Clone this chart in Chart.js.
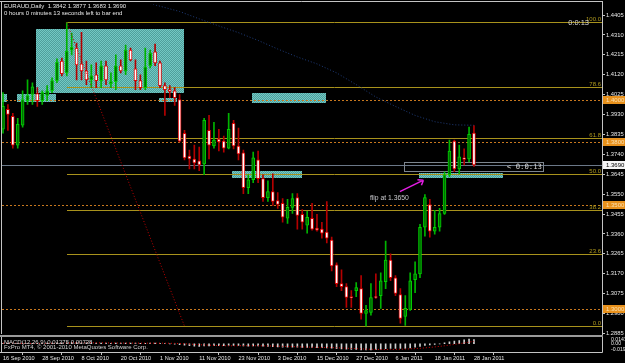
<!DOCTYPE html>
<html>
<head>
<meta charset="utf-8">
<script src="https://cdn.jsdelivr.net/npm/chart.js@4.4.0/dist/chart.umd.min.js"></script>
<style>
html, body { margin: 0; padding: 0; background: #000; }
canvas { display: block; }
</style>
</head>
<body>
<canvas id="myChart" width="625" height="363"></canvas>
<script>
// Velas diarias EURAUD, del 16 Sep 2010 (barra 0) al 28 Jan 2011 (barra 96)
const opens = [1.3860, 1.3955, 1.3922, 1.3784, 1.3879, 1.3997, 1.4026, 1.4030, 1.3997, 1.4021,
    1.4044, 1.4092, 1.4186, 1.4129, 1.4238, 1.4248, 1.4172, 1.4139, 1.4096, 1.4120,
    1.4092, 1.4163, 1.4077, 1.4087, 1.4163, 1.4139, 1.4238, 1.4148, 1.4092, 1.4059,
    1.4163, 1.4229, 1.4177, 1.4068, 1.4049, 1.4044, 1.4002, 1.3841, 1.3732, 1.3718,
    1.3709, 1.3695, 1.3855, 1.3780, 1.3813, 1.3803, 1.3770, 1.3888, 1.3780, 1.3747,
    1.3581, 1.3619, 1.3714, 1.3624, 1.3534, 1.3562, 1.3520, 1.3506, 1.3435, 1.3487,
    1.3534, 1.3454, 1.3402, 1.3435, 1.3388, 1.3383, 1.3369, 1.3331, 1.3213, 1.3123,
    1.3109, 1.3061, 1.3090, 1.3099, 1.2981, 1.2986, 1.3061, 1.3066, 1.3132, 1.3236,
    1.3151, 1.3071, 1.2967, 1.3000, 1.3142, 1.3170, 1.3392, 1.3501, 1.3373, 1.3392,
    1.3458, 1.3643, 1.3803, 1.3671, 1.3723, 1.3718, 1.3842];
const highs = [1.4035, 1.3978, 1.3936, 1.3912, 1.4044, 1.4096, 1.4082, 1.4059, 1.4044, 1.4068,
    1.4106, 1.4196, 1.4200, 1.4370, 1.4319, 1.4271, 1.4323, 1.4186, 1.4167, 1.4177,
    1.4186, 1.4186, 1.4129, 1.4215, 1.4191, 1.4262, 1.4248, 1.4191, 1.4120, 1.4248,
    1.4238, 1.4267, 1.4186, 1.4082, 1.4068, 1.4059, 1.4026, 1.3855, 1.3761, 1.3784,
    1.3775, 1.3912, 1.3926, 1.3893, 1.3860, 1.3827, 1.3936, 1.3903, 1.3865, 1.3761,
    1.3643, 1.3751, 1.3756, 1.3643, 1.3614, 1.3647, 1.3558, 1.3529, 1.3525, 1.3553,
    1.3553, 1.3477, 1.3468, 1.3506, 1.3454, 1.3416, 1.3515, 1.3345, 1.3222, 1.3189,
    1.3123, 1.3090, 1.3128, 1.3161, 1.3019, 1.3123, 1.3170, 1.3175, 1.3326, 1.3265,
    1.3161, 1.3099, 1.3066, 1.3175, 1.3227, 1.3406, 1.3548, 1.3525, 1.3473, 1.3482,
    1.3657, 1.3808, 1.3808, 1.3784, 1.3766, 1.3870, 1.3877];
const lows = [1.3841, 1.3855, 1.3770, 1.3770, 1.3870, 1.3978, 1.3978, 1.3969, 1.3978, 1.3997,
    1.4035, 1.4082, 1.4115, 1.4115, 1.4215, 1.4096, 1.4096, 1.4073, 1.4059, 1.4059,
    1.4059, 1.4073, 1.4059, 1.4049, 1.4129, 1.4120, 1.4186, 1.4049, 1.4049, 1.4049,
    1.4153, 1.4163, 1.4059, 1.3926, 1.4011, 1.3974, 1.3799, 1.3714, 1.3671, 1.3671,
    1.3662, 1.3643, 1.3718, 1.3770, 1.3756, 1.3751, 1.3766, 1.3766, 1.3714, 1.3553,
    1.3553, 1.3605, 1.3605, 1.3515, 1.3515, 1.3496, 1.3482, 1.3416, 1.3411, 1.3458,
    1.3383, 1.3383, 1.3364, 1.3378, 1.3373, 1.3340, 1.3317, 1.3184, 1.3109, 1.3090,
    1.3009, 1.3009, 1.3061, 1.2953, 1.2920, 1.2972, 1.3052, 1.3005, 1.3099, 1.3137,
    1.3066, 1.2934, 1.2924, 1.2995, 1.3080, 1.3151, 1.3350, 1.3345, 1.3359, 1.3373,
    1.3454, 1.3633, 1.3657, 1.3647, 1.3690, 1.3704, 1.3683];
const closes = [1.3969, 1.3931, 1.3784, 1.3884, 1.4002, 1.4021, 1.4063, 1.3997, 1.4035, 1.4044,
    1.4092, 1.4181, 1.4125, 1.4233, 1.4252, 1.4167, 1.4139, 1.4096, 1.4115, 1.4092,
    1.4163, 1.4096, 1.4087, 1.4163, 1.4139, 1.4238, 1.4191, 1.4092, 1.4059, 1.4158,
    1.4224, 1.4177, 1.4068, 1.4049, 1.4040, 1.4011, 1.3803, 1.3723, 1.3718, 1.3699,
    1.3690, 1.3903, 1.3784, 1.3808, 1.3799, 1.3770, 1.3860, 1.3780, 1.3742, 1.3581,
    1.3619, 1.3723, 1.3624, 1.3534, 1.3562, 1.3515, 1.3501, 1.3440, 1.3487, 1.3529,
    1.3449, 1.3416, 1.3440, 1.3383, 1.3378, 1.3364, 1.3340, 1.3208, 1.3123, 1.3109,
    1.3057, 1.3055, 1.3104, 1.2981, 1.2995, 1.3057, 1.3057, 1.3137, 1.3236, 1.3151,
    1.3076, 1.2957, 1.3005, 1.3137, 1.3170, 1.3392, 1.3534, 1.3373, 1.3392, 1.3458,
    1.3643, 1.3756, 1.3671, 1.3728, 1.3716, 1.3836, 1.3690];

// Etiquetas del eje X (una cada 8 barras)
const dateLabels = ['16 Sep 2010', '28 Sep 2010', '8 Oct 2010', '20 Oct 2010', '1 Nov 2010', '11 Nov 2010',
    '23 Nov 2010', '3 Dec 2010', '15 Dec 2010', '27 Dec 2010', '6 Jan 2011', '18 Jan 2011', '28 Jan 2011'];
const dateStep = 8;
// Etiquetas del eje de precios
const priceTicks = [1.4405, 1.4310, 1.4215, 1.4120, 1.4025, 1.3930, 1.3835, 1.3740, 1.3645,
    1.3550, 1.3455, 1.3360, 1.3265, 1.3170, 1.3075, 1.2980, 1.2885];

// Media movil (linea punteada azul)
const maBars = [30, 36, 40, 44, 48, 52, 56, 60, 64, 68, 72, 76, 80, 84, 88, 92, 96];
const maValues = [1.4460, 1.4422, 1.4387, 1.4353, 1.4321, 1.4284, 1.4243, 1.4205, 1.4172,
    1.4129, 1.4073, 1.4014, 1.3969, 1.3926, 1.3896, 1.3881, 1.3879];

// MACD(12,26,9): linea principal (histograma) y senal
const macdMain = [0.0012, 0.0010, 0.0006, 0.0004, 0.0008, 0.0011, 0.0014, 0.0015, 0.0016, 0.0018,
    0.0021, 0.0027, 0.0029, 0.0033, 0.0036, 0.0034, 0.0031, 0.0027, 0.0024, 0.0021,
    0.0021, 0.0018, 0.0016, 0.0018, 0.0017, 0.0022, 0.0023, 0.0019, 0.0013, 0.0015,
    0.0019, 0.0020, 0.0013, 0.0004, -0.0003, -0.0010, -0.0028, -0.0047, -0.0061, -0.0073,
    -0.0082, -0.0070, -0.0068, -0.0064, -0.0063, -0.0063, -0.0052, -0.0049, -0.0051, -0.0066,
    -0.0073, -0.0069, -0.0071, -0.0080, -0.0085, -0.0091, -0.0096, -0.0105, -0.0107, -0.0105,
    -0.0109, -0.0114, -0.0114, -0.0119, -0.0121, -0.0124, -0.0127, -0.0139, -0.0153, -0.0163,
    -0.0173, -0.0179, -0.0181, -0.0192, -0.0197, -0.0191, -0.0183, -0.0172, -0.0155, -0.0146,
    -0.0143, -0.0147, -0.0145, -0.0128, -0.0110, -0.0083, -0.0050, -0.0036, -0.0022, -0.0004,
    0.0030, 0.0062, 0.0080, 0.0100, 0.0120, 0.0143, 0.01275];
const macdSignal = [0.0020, 0.0018, 0.0016, 0.0013, 0.0011, 0.0010, 0.0010, 0.0010, 0.0011, 0.0012,
    0.0013, 0.0015, 0.0017, 0.0019, 0.0022, 0.0024, 0.0026, 0.0027, 0.0028, 0.0028,
    0.0027, 0.0026, 0.0024, 0.0022, 0.0021, 0.0020, 0.0020, 0.0019, 0.0019, 0.0018,
    0.0018, 0.0018, 0.0018, 0.0017, 0.0014, 0.0010, 0.0004, -0.0003, -0.0011, -0.0020,
    -0.0030, -0.0037, -0.0044, -0.0051, -0.0058, -0.0063, -0.0065, -0.0064, -0.0062, -0.0062,
    -0.0062, -0.0063, -0.0064, -0.0066, -0.0069, -0.0072, -0.0076, -0.0081, -0.0086, -0.0091,
    -0.0096, -0.0101, -0.0105, -0.0109, -0.0112, -0.0115, -0.0118, -0.0122, -0.0127, -0.0133,
    -0.0140, -0.0147, -0.0153, -0.0161, -0.0168, -0.0173, -0.0177, -0.0180, -0.0181, -0.0179,
    -0.0176, -0.0171, -0.0166, -0.0159, -0.0152, -0.0143, -0.0130, -0.0116, -0.0100, -0.0083,
    -0.0064, -0.0043, -0.0021, 0.0002, 0.0024, 0.0050, 0.00738];
const macdTicks = [0.01432, 0, -0.01966];
const macdTickText = ['0.01432', '0.00', '-0.01966'];

// Fibonacci: maximo en la barra 13, segundo punto en la barra 37
const fiboHighBar = 13, fiboHigh = 1.4370;
const fiboLowBar = 37, fiboLow = 1.2920;
const fiboLevels = [0, 23.6, 38.2, 50, 61.8, 78.6, 100];
const roundLevels = [1.4000, 1.3800, 1.3500, 1.3000];
const bidPrice = 1.3690;

// Zonas cian: [barra inicio, barra fin, precio arriba, precio abajo]
const zones = [
    [6.7, 36.9, 1.4337, 1.4035],
    [-0.3, 0.75, 1.4026, 1.3988],
    [2.85, 10.8, 1.4026, 1.3988],
    [31.8, 35.5, 1.4007, 1.3992],
    [50.8, 65.8, 1.4035, 1.3983],
    [46.7, 60.9, 1.3662, 1.3628],
    [84.8, 101.9, 1.3652, 1.3628]
];
const timerBox = [81.7, 110.1, 1.3704, 1.3662];
const arrowFrom = [80.9, 1.3562], arrowTo = [85.7, 1.3617];
const flipText = 'flip at 1.3650', flipAt = [74.8, 1.3529];

const FONT = 'Liberation Sans, Arial, sans-serif';
const bull = (i) => closes[i] >= opens[i];

// Patron punteado para las zonas
function zonePattern(ctx) {
    const c = document.createElement('canvas');
    c.width = 2; c.height = 2;
    const p = c.getContext('2d');
    p.fillStyle = '#4f9f9c'; p.fillRect(0, 0, 2, 2);
    p.fillStyle = '#72c9c4'; p.fillRect(0, 0, 1, 1); p.fillRect(1, 1, 1, 1);
    return ctx.createPattern(c, 'repeat');
}

const overlay = {
    id: 'overlay',
    beforeDraw(chart) {
        const ctx = chart.ctx;
        ctx.save();
        ctx.fillStyle = '#000';
        ctx.fillRect(0, 0, chart.width, chart.height);
        ctx.restore();
    },
    beforeDatasetsDraw(chart) {
        const { ctx, chartArea: a, scales: { x, y } } = chart;
        const py = (v) => Math.round(y.getPixelForValue(v)) + 0.5;
        ctx.save();
        // zonas
        ctx.fillStyle = zonePattern(ctx);
        zones.forEach(z => {
            const x1 = Math.round(x.getPixelForValue(z[0])), x2 = Math.round(x.getPixelForValue(z[1]));
            const y1 = Math.round(y.getPixelForValue(z[2])), y2 = Math.round(y.getPixelForValue(z[3]));
            ctx.fillRect(x1, y1, x2 - x1, y2 - y1);
        });
        // lineas redondas punteadas
        ctx.strokeStyle = '#c8781e';
        ctx.lineWidth = 1;
        ctx.setLineDash([2, 2]);
        roundLevels.forEach(v => {
            ctx.beginPath(); ctx.moveTo(a.left, py(v)); ctx.lineTo(a.right, py(v)); ctx.stroke();
        });
        ctx.setLineDash([]);
        // linea bid
        ctx.strokeStyle = '#6b7888';
        ctx.beginPath(); ctx.moveTo(a.left, py(bidPrice)); ctx.lineTo(a.right, py(bidPrice)); ctx.stroke();
        // niveles fibonacci
        const fx = Math.round(x.getPixelForValue(fiboHighBar));
        ctx.strokeStyle = '#a8921c';
        ctx.fillStyle = '#b09a1e';
        ctx.font = '6px ' + FONT;
        ctx.textAlign = 'right';
        ctx.textBaseline = 'bottom';
        fiboLevels.forEach(l => {
            const v = fiboLow + (fiboHigh - fiboLow) * l / 100;
            ctx.beginPath(); ctx.moveTo(fx, py(v)); ctx.lineTo(a.right, py(v)); ctx.stroke();
            ctx.fillText(l.toFixed(1), a.right - 1, py(v) - 0.5);
        });
        // rectangulo del temporizador
        ctx.strokeStyle = '#7d858e';
        const bx1 = Math.round(x.getPixelForValue(timerBox[0])) + 0.5, bx2 = Math.round(x.getPixelForValue(timerBox[1])) + 0.5;
        ctx.strokeRect(bx1, py(timerBox[2]), bx2 - bx1, py(timerBox[3]) - py(timerBox[2]));
        ctx.restore();
    },
    afterDraw(chart) {
        const { ctx, chartArea: a, scales: { x, y, macd } } = chart;
        const py = (v) => Math.round(y.getPixelForValue(v)) + 0.5;
        ctx.save();
        // marco
        ctx.strokeStyle = '#c4c4c4';
        ctx.lineWidth = 1;
        ctx.beginPath();
        ctx.moveTo(0, 1.5); ctx.lineTo(a.right + 0.5, 1.5);
        ctx.moveTo(1.5, 1); ctx.lineTo(1.5, a.bottom);
        ctx.moveTo(a.right + 0.5, 1); ctx.lineTo(a.right + 0.5, a.bottom + 0.5);
        ctx.moveTo(0, a.bottom + 0.5); ctx.lineTo(a.right + 0.5, a.bottom + 0.5);
        ctx.stroke();
        // separador entre paneles
        const sep = Math.round(macd.top);
        ctx.fillStyle = '#000';
        ctx.fillRect(0, sep - 3, a.right, 3);
        ctx.fillStyle = '#9a9a9a';
        ctx.fillRect(0, sep - 2, a.right + 1, 2);

        // flecha magenta
        const ax1 = x.getPixelForValue(arrowFrom[0]), ay1 = y.getPixelForValue(arrowFrom[1]);
        const ax2 = x.getPixelForValue(arrowTo[0]), ay2 = y.getPixelForValue(arrowTo[1]);
        ctx.strokeStyle = '#e41ee4';
        ctx.lineWidth = 1.5;
        ctx.beginPath(); ctx.moveTo(ax1, ay1); ctx.lineTo(ax2, ay2);
        ctx.moveTo(ax2, ay2); ctx.lineTo(ax2 - 6, ay2 - 0.5);
        ctx.moveTo(ax2, ay2); ctx.lineTo(ax2 - 2, ay2 + 5);
        ctx.stroke();

        // textos
        ctx.textAlign = 'left';
        ctx.textBaseline = 'middle';
        ctx.fillStyle = '#e6e6e6';
        ctx.font = '6px ' + FONT;
        ctx.fillText('EURAUD,Daily  1.3842 1.3877 1.3683 1.3690', 4, 6);
        ctx.fillText('0 hours 0 minutes 13 seconds left to bar end', 4, 13);
        ctx.fillStyle = '#c8c8cc';
        ctx.font = '6.8px ' + FONT;
        ctx.fillText(flipText, x.getPixelForValue(flipAt[0]), y.getPixelForValue(flipAt[1]));
        ctx.fillStyle = '#d8d8d8';
        ctx.font = '7.5px ' + FONT;
        ctx.textAlign = 'right';
        ctx.fillText('0:0:13', a.right - 13, py(fiboHigh));
        ctx.font = '7.3px DejaVu Sans Mono, monospace';
        ctx.fillText('< 0:0:13', Math.round(x.getPixelForValue(timerBox[1])) - 1,
            (py(timerBox[2]) + py(timerBox[3])) / 2 + 0.5);
        ctx.textAlign = 'left';
        ctx.fillStyle = '#d2d2d2';
        ctx.font = '6px ' + FONT;
        ctx.fillText('MACD(12,26,9) 0.01275 0.00738', 4, sep + 5);
        ctx.fillText('FxPro MT4, \u00a9 2001-2010 MetaQuotes Software Corp.', 4, sep + 10);

        // etiquetas de precio en el eje
        const tag = (v, bg, fg) => {
            const yy = Math.round(y.getPixelForValue(v));
            ctx.fillStyle = bg;
            ctx.fillRect(a.right + 1, yy - 4, chart.width - a.right - 1, 8);
            ctx.fillStyle = fg;
            ctx.fillText(v.toFixed(4), a.right + 4, yy + 0.5);
        };
        roundLevels.forEach(v => tag(v, '#e8911c', '#fbe0b0'));
        tag(bidPrice, '#f4f4f4', '#000');
        ctx.restore();
    }
};

new Chart(document.getElementById('myChart'), {
    type: 'bar',
    data: {
        datasets: [{
            // mechas
            type: 'bar',
            data: lows.map((l, i) => ({ x: i, y: [l, highs[i]] })),
            backgroundColor: (c) => bull(c.dataIndex) ? '#00b400' : '#b40000',
            borderWidth: 0,
            barThickness: 1,
            grouped: false,
            yAxisID: 'y',
            order: 5
        }, {
            // cuerpos
            type: 'bar',
            data: opens.map((o, i) => ({ x: i, y: [o, closes[i]] })),
            backgroundColor: (c) => bull(c.dataIndex) ? '#006e00' : '#ffffff',
            borderColor: (c) => bull(c.dataIndex) ? '#00d000' : '#e00000',
            borderWidth: 1,
            borderSkipped: false,
            barThickness: 3,
            grouped: false,
            yAxisID: 'y',
            order: 4
        }, {
            type: 'line',
            data: maBars.map((b, i) => ({ x: b, y: maValues[i] })),
            borderColor: '#1f3c7a',
            borderWidth: 1,
            borderDash: [1, 2],
            pointRadius: 0,
            yAxisID: 'y',
            order: 3
        }, {
            type: 'line',
            data: [{ x: fiboHighBar, y: fiboHigh }, { x: fiboLowBar, y: fiboLow }],
            borderColor: '#c00000',
            borderWidth: 1,
            borderDash: [1, 2],
            pointRadius: 0,
            yAxisID: 'y',
            order: 2
        }, {
            type: 'bar',
            data: macdMain.map((v, i) => ({ x: i, y: v })),
            backgroundColor: '#cfcfcf',
            borderWidth: 0,
            barThickness: 1,
            grouped: false,
            yAxisID: 'macd',
            order: 5
        }, {
            type: 'line',
            data: macdSignal.map((v, i) => ({ x: i, y: v })),
            borderColor: '#d00000',
            borderWidth: 1,
            borderDash: [1, 2],
            pointRadius: 0,
            yAxisID: 'macd',
            order: 1
        }]
    },
    options: {
        responsive: false,
        animation: false,
        devicePixelRatio: 1,
        layout: { padding: { left: 2, top: 1, right: 0, bottom: 0 } },
        plugins: { legend: { display: false }, tooltip: { enabled: false } },
        scales: {
            x: {
                type: 'linear',
                position: 'bottom',
                min: -0.204,
                max: 122.1,
                offset: false,
                border: { display: false },
                grid: { drawOnChartArea: false, color: '#c4c4c4', tickLength: 3 },
                afterBuildTicks: (s) => { s.ticks = dateLabels.map((_, k) => ({ value: k * dateStep })); },
                afterFit: (s) => { s.height = 11; },
                ticks: {
                    autoSkip: false,
                    maxRotation: 0,
                    align: 'start',
                    padding: 0,
                    color: '#e6e6e6',
                    font: { family: FONT, size: 5.6 },
                    callback: (v) => dateLabels[Math.round(v / dateStep)]
                }
            },
            y: {
                type: 'linear',
                position: 'right',
                stack: 'panes',
                stackWeight: 336,
                min: 1.28676,
                max: 1.44556,
                border: { display: false },
                grid: { drawOnChartArea: false, color: '#c4c4c4', tickLength: 3 },
                afterBuildTicks: (s) => { s.ticks = priceTicks.map(v => ({ value: v })); },
                afterFit: (s) => { s.width = 23; },
                ticks: {
                    autoSkip: false,
                    padding: 1,
                    color: '#e6e6e6',
                    font: { family: FONT, size: 5.8 },
                    callback: (v) => v.toFixed(4)
                }
            },
            macd: {
                type: 'linear',
                position: 'right',
                stack: 'panes',
                stackWeight: 15,
                min: -0.0258,
                max: 0.0205,
                border: { display: false },
                grid: { drawOnChartArea: false, display: false },
                afterBuildTicks: (s) => { s.ticks = macdTicks.map(v => ({ value: v })); },
                afterFit: (s) => { s.width = 23; },
                ticks: {
                    autoSkip: false,
                    padding: 1,
                    color: '#e6e6e6',
                    font: { family: FONT, size: 5.2 },
                    callback: (v, i) => macdTickText[i]
                }
            }
        }
    },
    plugins: [overlay]
});
</script>
</body>
</html>
